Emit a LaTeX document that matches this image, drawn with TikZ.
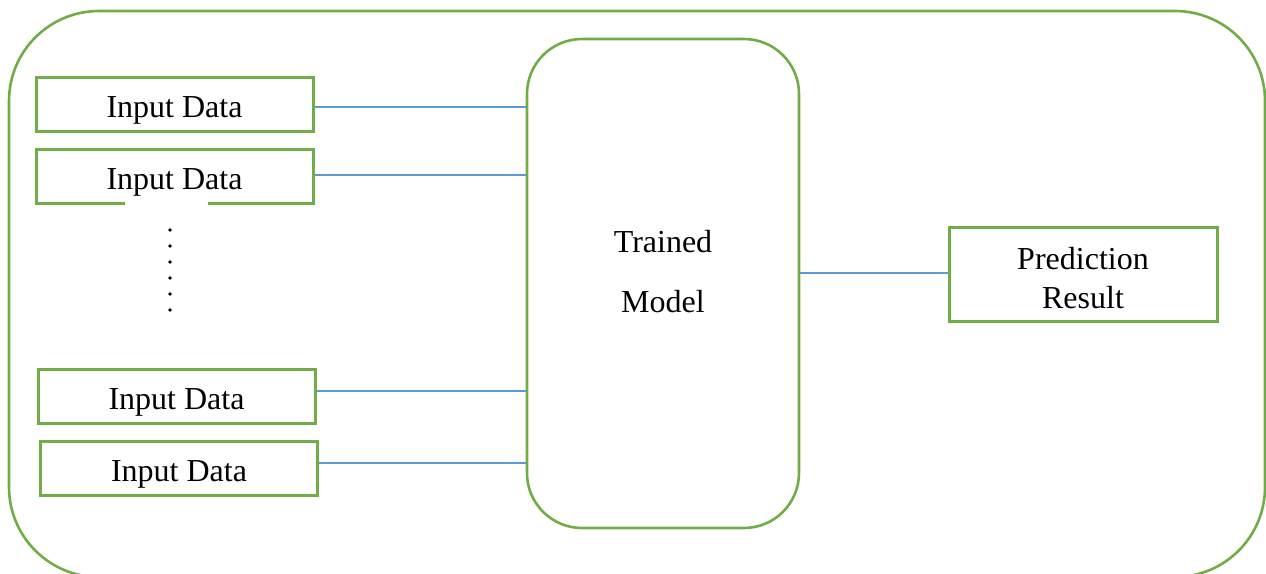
\documentclass[tikz,border=0pt]{standalone}
\usepackage{fontspec}
\setmainfont{Liberation Serif}
\definecolor{grn}{HTML}{70AD47}
\definecolor{blu}{HTML}{5B9BD5}
\begin{document}
\begin{tikzpicture}[x=1pt,y=-1pt,
  txt/.style={font=\fontsize{32}{38}\selectfont},
  inbox/.style={txt,draw=grn,line width=3pt,minimum width=277pt,minimum height=54pt,inner sep=0pt,text height=26pt,text depth=0pt},
  conn/.style={draw=blu,line width=1.3pt}]
\useasboundingbox (0,0) rectangle (1266,573);
% outer frame
\draw[grn,line width=2.6pt,rounded corners=90pt] (9,11) rectangle (1265,577);
% input boxes
\node[inbox] (in1) at (174.5,104) {Input Data};
\node[inbox] (in2) at (174.5,176) {Input Data};
\node[inbox] (in3) at (176.5,396) {Input Data};
\node[inbox] (in4) at (179,468) {Input Data};
% gap in bottom edge of second box
\fill[white] (125,201) rectangle (208,206);
% vertical dots
\foreach \k in {0,...,5} \fill (170,230+16*\k) circle[radius=1.8pt];
% trained model
\node[draw=grn,line width=2.6pt,rounded corners=55pt,minimum width=272pt,minimum height=489pt] (model) at (663,283.5) {};
\node[txt,align=center,font=\fontsize{32}{60}\selectfont] (mtext) at (663,272) {Trained\\Model};
% prediction
\node[draw=grn,line width=3pt,minimum width=268pt,minimum height=94pt] (pred) at (1083,274) {};
\node[txt,align=center,font=\fontsize{32}{39}\selectfont] (ptext) at (1083,278) {Prediction\\Result};
% connectors
\draw[conn] ([yshift=-3pt]in1.east) -- ([yshift=-3pt]in1.east -| model.west);
\draw[conn] ([yshift=1pt]in2.east) -- ([yshift=1pt]in2.east -| model.west);
\draw[conn] ([yshift=5pt]in3.east) -- ([yshift=5pt]in3.east -| model.west);
\draw[conn] ([yshift=5pt]in4.east) -- ([yshift=5pt]in4.east -| model.west);
\draw[conn] ([yshift=10.5pt]model.east) -- ([yshift=10.5pt]model.east -| pred.west);
\end{tikzpicture}
\end{document}
